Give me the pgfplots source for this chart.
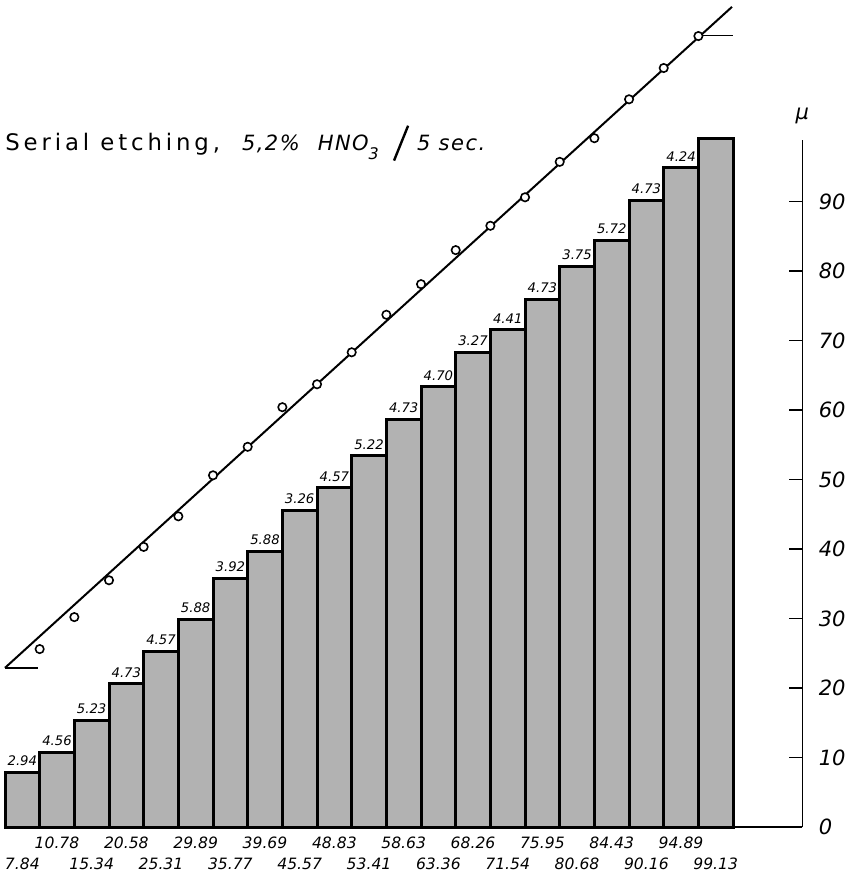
\documentclass[border=0pt]{standalone}
\usepackage{fontspec}
\setmainfont{DejaVu Sans}
\newfontfamily\titlefont[LetterSpace=17]{DejaVu Sans}
\newfontfamily\titleit[LetterSpace=7]{DejaVu Sans}
\usepackage{graphicx}
\usepackage{pgfplots}
\pgfplotsset{compat=1.18}
\usepackage{pgfplotstable}
\usetikzlibrary{calc}

% cumulative depth of each etching step, with the increment to the next step
\pgfplotstableread{
x    y      inc
0.5  7.84   2.94
1.5  10.78  4.56
2.5  15.34  5.23
3.5  20.58  4.73
4.5  25.31  4.57
5.5  29.89  5.88
6.5  35.77  3.92
7.5  39.69  5.88
8.5  45.57  3.26
9.5  48.83  4.57
10.5 53.41  5.22
11.5 58.63  4.73
12.5 63.36  4.70
13.5 68.26  3.27
14.5 71.54  4.41
15.5 75.95  4.73
16.5 80.68  3.75
17.5 84.43  5.72
18.5 90.16  4.73
19.5 94.89  4.24
20.5 99.13  {}
}\steps

% measured points along the straight line
\pgfplotstableread{
x  y
1  25.6
2  30.2
3  35.5
4  40.3
5  44.7
6  50.6
7  54.7
8  60.4
9  63.7
10 68.3
11 73.7
12 78.1
13 83.0
14 86.5
15 90.6
16 95.7
17 99.1
18 104.7
19 109.2
20 113.8
}\etch

\begin{document}
\begin{tikzpicture}
\begin{axis}[
  name=ax,
  scale only axis,
  width=398.7pt, height=343.7pt,
  xmin=0, xmax=23, ymin=0, ymax=98.9,
  axis x line=bottom, axis y line=right,
  axis line style={-, line width=0.9pt, black},
  clip=false,
  ytick={0,10,...,90},
  tick align=inside,
  major tick length=6.5pt,
  ytick style={line width=0.8pt, black},
  yticklabel style={font=\fontsize{10.5}{12}\selectfont\itshape, inner sep=0pt, xshift=8pt},
  /pgf/number format/assume math mode=true,
  xtick={0.5,1.5,...,20.5},
  xticklabels={7.84,\raisebox{10.5pt}{10.78},15.34,\raisebox{10.5pt}{20.58},25.31,\raisebox{10.5pt}{29.89},35.77,\raisebox{10.5pt}{39.69},45.57,\raisebox{10.5pt}{48.83},53.41,\raisebox{10.5pt}{58.63},63.36,\raisebox{10.5pt}{68.26},71.54,\raisebox{10.5pt}{75.95},80.68,\raisebox{10.5pt}{84.43},90.16,\raisebox{10.5pt}{94.89},99.13},
  x tick style={draw=none},
  xticklabel style={anchor=base, yshift=-21pt, inner sep=0pt, font=\fontsize{7.8}{9}\selectfont\itshape},
]
\addplot[ybar, bar width=1, fill=black!30, draw=black, line width=1.5pt] table[x=x, y=y] {\steps};
\addplot[draw=none, mark=none,
  nodes near coords, point meta=explicit symbolic,
  every node near coord/.append style={font=\fontsize{6.6}{7}\selectfont\itshape, anchor=south, inner sep=0pt, yshift=3pt}]
  table[x=x, y=y, meta=inc] {\steps};

\addplot[black, line width=1pt] coordinates {(0,22.9) (20.97,118)};
\addplot[black, line width=0.7pt] coordinates {(0,22.9) (0.95,22.9)};
\addplot[black, line width=0.5pt] coordinates {(20,113.9) (21,113.9)};
\addplot[only marks, mark=*, mark size=2.1pt, mark options={line width=0.8pt, draw=black, fill=white}] table {\etch};

\node[anchor=base west, inner sep=0pt] at (axis cs:0,97.4)
  {\fontsize{11.4}{13}\selectfont{\titlefont Serial etching,}\hspace{11pt}%
   \fontsize{10.5}{12}\selectfont\titleit\itshape 5,2\%\hspace{9pt}HNO\raisebox{-4.5pt}{\fontsize{8}{9}\selectfont 3}%
   \hspace{7pt}\raisebox{-5.5pt}{\rotatebox{68}{\rule{18.8pt}{1.2pt}}}\hspace{4pt}5 sec.};
\node[inner sep=0pt, font=\fontsize{10.5}{12}\selectfont\itshape] at (axis cs:23,102.3) {μ};
\end{axis}
\pgfresetboundingbox
\path ($(ax.south west)+(-2.5pt,-23.5pt)$) rectangle ($(ax.south west)+(423pt,413.5pt)$);
\end{tikzpicture}
\end{document}
